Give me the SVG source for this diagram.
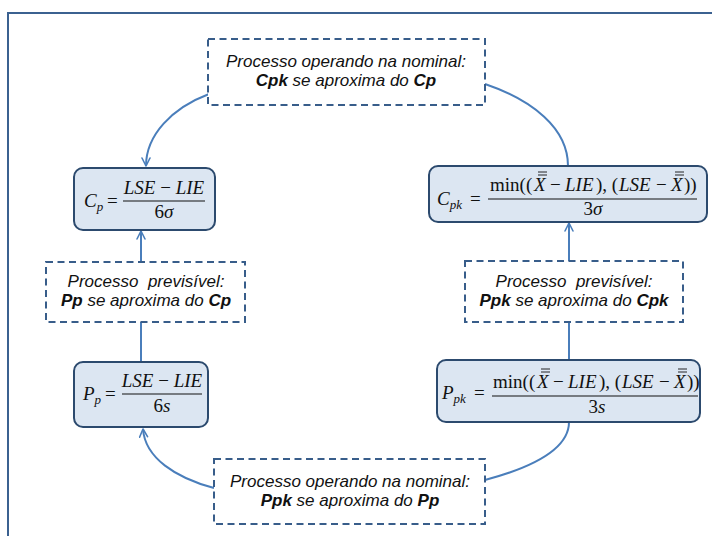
<svg xmlns="http://www.w3.org/2000/svg" width="712" height="536" viewBox="0 0 712 536">
<defs>
<marker id="arr" viewBox="0 0 10 10" refX="9" refY="5" markerWidth="5" markerHeight="5" orient="auto" markerUnits="strokeWidth">
<path d="M1,1 L9,5 L1,9" fill="none" stroke="#4a7ebb" stroke-width="1.6" stroke-linecap="round" stroke-linejoin="round"/>
</marker>
<style>
.frame{fill:none;stroke:#3b6190;stroke-width:2}
.dash{fill:#fff;stroke:#385d8a;stroke-width:2;stroke-dasharray:7 4.5}
.rbox{fill:#dce6f2;stroke:#2c4a6e;stroke-width:2}
.con{fill:none;stroke:#4a7ebb;stroke-width:2}
.lbl{font-family:"Liberation Sans",Arial,sans-serif;font-size:17px;font-style:italic;fill:#111;text-anchor:middle}
.lbl .b{font-weight:bold}
.m{font-family:"Liberation Serif","Times New Roman",serif;font-size:19px;fill:#111}
.i{font-style:italic}
.sub{font-size:13px;font-style:italic}
.ctr{text-anchor:middle}
.bar{stroke:#111;stroke-width:1}
.ol{stroke:#111;stroke-width:0.9}
</style>
</defs>
<polyline class="frame" points="8,536 8,13 712,13"/>

<g id="connectors">
<path class="con" d="M209,94 C172,108 146,135 146,166" marker-end="url(#arr)"/>
<path class="con" d="M568,166 C568,128 532,100 485,84"/>
<path class="con" d="M141,322 L141,231" marker-end="url(#arr)"/>
<path class="con" d="M141,362 L141,322"/>
<path class="con" d="M569,322 L569,223" marker-end="url(#arr)"/>
<path class="con" d="M569,360 L569,322"/>
<path class="con" d="M569,422 C569,450 530,468 485,480"/>
<path class="con" d="M214,488 C176,478 145,458 143,429" marker-end="url(#arr)"/>
</g>

<g id="top">
<rect class="dash" x="208" y="39" width="277" height="66"/>
<text class="lbl" x="346" y="67">Processo operando na nominal:</text>
<text class="lbl" x="346" y="86"><tspan class="b">Cpk</tspan> se aproxima do <tspan class="b">Cp</tspan></text>
</g>

<g id="bottom">
<rect class="dash" x="214" y="459" width="271" height="65"/>
<text class="lbl" x="350" y="487">Processo operando na nominal:</text>
<text class="lbl" x="350" y="506"><tspan class="b">Ppk</tspan> se aproxima do <tspan class="b">Pp</tspan></text>
</g>

<g id="leftmid">
<rect class="dash" x="46" y="262" width="199" height="60"/>
<text class="lbl" x="146" y="287" xml:space="preserve">Processo  previsível:</text>
<text class="lbl" x="146" y="306"><tspan class="b">Pp</tspan> se aproxima do <tspan class="b">Cp</tspan></text>
</g>

<g id="rightmid">
<rect class="dash" x="465" y="261" width="218" height="61"/>
<text class="lbl" x="574" y="287" xml:space="preserve">Processo  previsível:</text>
<text class="lbl" x="574" y="306"><tspan class="b">Ppk</tspan> se aproxima do <tspan class="b">Cpk</tspan></text>
</g>

<g id="cp">
<rect class="rbox" x="74" y="168" width="141" height="62" rx="9"/>
<text class="m i" x="84" y="207">C<tspan class="sub" dy="4">p</tspan></text>
<text class="m" x="107" y="207">=</text>
<line class="bar" x1="123" y1="201" x2="205" y2="201"/>
<text class="m i ctr" x="164" y="194">LSE <tspan font-style="normal">−</tspan> LIE</text>
<text class="m ctr" x="164" y="218">6<tspan class="i">σ</tspan></text>
</g>

<g id="cpk">
<rect class="rbox" x="429" y="166" width="278" height="56" rx="9"/>
<text class="m i" x="437" y="205">C<tspan class="sub" dy="4">pk</tspan></text>
<text class="m" x="470" y="205">=</text>
<line class="bar" x1="488" y1="199" x2="697" y2="199"/>
<g id="cpknum">
<text class="m" y="191"><tspan x="490">min((</tspan><tspan x="534" class="i">X</tspan><tspan x="550">−</tspan><tspan x="565" class="i">LIE</tspan><tspan x="596">), (</tspan><tspan x="619" class="i">LSE</tspan><tspan x="656">−</tspan><tspan x="671" class="i">X</tspan><tspan x="684">))</tspan></text>
<line class="ol" x1="538" y1="175" x2="547" y2="175"/>
<line class="ol" x1="538" y1="172" x2="547" y2="172"/>
<line class="ol" x1="675" y1="175" x2="684" y2="175"/>
<line class="ol" x1="675" y1="172" x2="684" y2="172"/>
</g>
<text class="m ctr" x="593" y="215">3<tspan class="i">σ</tspan></text>
</g>

<g id="pp">
<rect class="rbox" x="74" y="362" width="134" height="65" rx="9"/>
<text class="m i" x="83" y="400">P<tspan class="sub" dy="4">p</tspan></text>
<text class="m" x="105" y="400">=</text>
<line class="bar" x1="122" y1="394" x2="202" y2="394"/>
<text class="m i ctr" x="162" y="387">LSE <tspan font-style="normal">−</tspan> LIE</text>
<text class="m ctr" x="162" y="412">6<tspan class="i">s</tspan></text>
</g>

<g id="ppk">
<rect class="rbox" x="437" y="360" width="263" height="62" rx="9"/>
<text class="m i" x="442" y="399">P<tspan class="sub" dy="4">pk</tspan></text>
<text class="m" x="474" y="399">=</text>
<line class="bar" x1="492" y1="396" x2="698" y2="396"/>
<g transform="translate(3,197)">
<text class="m" y="191"><tspan x="490">min((</tspan><tspan x="534" class="i">X</tspan><tspan x="550">−</tspan><tspan x="565" class="i">LIE</tspan><tspan x="596">), (</tspan><tspan x="619" class="i">LSE</tspan><tspan x="656">−</tspan><tspan x="671" class="i">X</tspan><tspan x="684">))</tspan></text>
<line class="ol" x1="538" y1="175" x2="547" y2="175"/>
<line class="ol" x1="538" y1="172" x2="547" y2="172"/>
<line class="ol" x1="675" y1="175" x2="684" y2="175"/>
<line class="ol" x1="675" y1="172" x2="684" y2="172"/>
</g>
<text class="m ctr" x="597" y="413">3<tspan class="i">s</tspan></text>
</g>
</svg>
